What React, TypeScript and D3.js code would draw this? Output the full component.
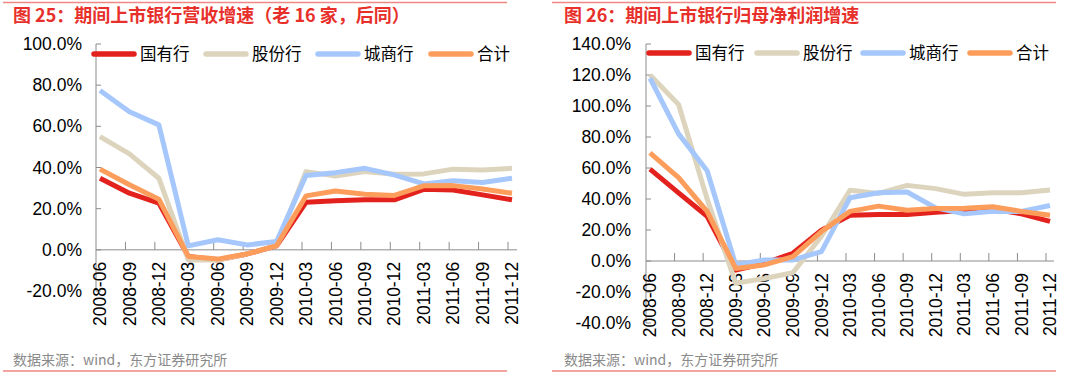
import React from "react";
import * as d3 from "d3";

const categories = [
  "2008-06", "2008-09", "2008-12", "2009-03", "2009-06", "2009-09", "2009-12",
  "2010-03", "2010-06", "2010-09", "2010-12", "2011-03", "2011-06", "2011-09", "2011-12",
];

const seriesNames = ["国有行", "股份行", "城商行", "合计"];
const seriesColors = ["#e3221d", "#ddd4be", "#a5c7fc", "#fd9d5c"];

// Chart 25: revenue growth (%)
const rev_state = [34.8, 27.5, 22.7, -3.2, -4.9, -2.0, 1.9, 23.1, 23.9, 24.3, 24.3, 29.4, 29.1, 26.7, 24.3];
const rev_joint = [55.0, 46.6, 34.8, -4.9, -5.0, -2.0, 2.0, 38.0, 35.9, 38.0, 36.7, 36.9, 39.2, 38.8, 39.6];
const rev_city = [77.4, 67.1, 60.7, 1.9, 4.9, 2.4, 4.0, 36.1, 37.5, 39.6, 36.4, 32.0, 33.6, 32.7, 34.8];
const rev_total = [39.2, 31.6, 24.6, -3.2, -4.5, -2.0, 2.0, 26.2, 28.6, 27.0, 26.4, 31.1, 31.2, 29.6, 27.5];

// Chart 26: net profit growth (%)
const np_state = [59.3, 44.0, 28.9, -5.9, -1.5, 5.0, 19.8, 29.5, 30.0, 30.0, 31.5, 32.6, 33.6, 30.4, 25.6];
const np_joint = [120.0, 101.0, 40.0, -14.3, -11.3, -7.6, 16.0, 45.6, 43.6, 48.8, 46.7, 43.0, 44.0, 44.0, 45.8];
const np_city = [117.9, 82.0, 58.2, -2.6, 0.7, 0.7, 6.0, 40.8, 44.0, 44.5, 34.3, 30.4, 32.1, 32.0, 35.8];
const np_total = [69.7, 53.8, 32.0, -4.8, -2.5, 2.8, 19.0, 32.0, 35.4, 32.8, 33.9, 34.0, 35.0, 32.0, 29.5];

const revTicks = [-20, 0, 20, 40, 60, 80, 100];
const npTicks = [-40, -20, 0, 20, 40, 60, 80, 100, 120, 140];

const title25 = "图 25：期间上市银行营收增速（老 16 家，后同）";
const title26 = "图 26：期间上市银行归母净利润增速";
const sourceText = "数据来源：wind，东方证券研究所";

const NUM_FONT = "'Liberation Sans', Arial, sans-serif";
const CJK_FONT = "'Noto Sans CJK SC', 'Liberation Sans', sans-serif";

type PanelProps = {
  title: string;
  data: number[][];
  ticks: number[];
  yDomain: [number, number];
  yRange: [number, number];
  axisX: number;
  xRange: [number, number];
  axisEnd: number;
  labelRight: number;
  legendLines: number[];
  legendY: number;
  borderX: [number, number];
  titleX: number;
};

function Panel(p: PanelProps) {
  const y = d3.scaleLinear().domain(p.yDomain).range(p.yRange);
  const x = d3.scalePoint<string>().domain(categories).range(p.xRange);
  const line = d3
    .line<number>()
    .x((_, i) => x(categories[i]) as number)
    .y((v) => y(v));
  const y0 = y(0);
  const step = x.step();
  return (
    <g>
      <line x1={p.borderX[0]} x2={p.borderX[1]} y1={2.5} y2={2.5} stroke="#f08784" strokeWidth={1.5} />
      <line x1={p.borderX[0]} x2={p.borderX[1]} y1={371} y2={371} stroke="#f08784" strokeWidth={1.5} />
      <text x={p.titleX} y={22} fill="#e8302b" fontFamily={CJK_FONT} fontSize={18} fontWeight="bold">
        {p.title}
      </text>
      <text x={p.titleX} y={365} fill="#8a8a8a" fontFamily={CJK_FONT} fontSize={14}>
        {sourceText}
      </text>
      {/* y axis */}
      <line x1={p.axisX} x2={p.axisX} y1={y(p.yDomain[0])} y2={y(p.yDomain[1])} stroke="#8c8c8c" strokeWidth={1} />
      {p.ticks.map((t) => (
        <g key={t}>
          <line x1={p.axisX} x2={p.axisX + 5} y1={y(t)} y2={y(t)} stroke="#8c8c8c" strokeWidth={1} />
          <text
            x={p.labelRight}
            y={y(t)}
            dy="0.35em"
            textAnchor="end"
            fontFamily={NUM_FONT}
            fontSize={17.5}
            fill="#000"
          >
            {t.toFixed(1) + "%"}
          </text>
        </g>
      ))}
      {/* x axis */}
      <line x1={p.axisX} x2={p.axisEnd} y1={y0} y2={y0} stroke="#8c8c8c" strokeWidth={1} />
      {categories.map((c, i) =>
        i === 0 ? null : (
          <line
            key={"t" + c}
            x1={p.axisX + i * step}
            x2={p.axisX + i * step}
            y1={y0}
            y2={y0 - 8}
            stroke="#8c8c8c"
            strokeWidth={1}
          />
        )
      )}
      {categories.map((c) => (
        <text
          key={"l" + c}
          transform={`translate(${x(c)},${y0 + 12}) rotate(-90)`}
          textAnchor="end"
          dy="0.35em"
          fontFamily={NUM_FONT}
          fontSize={17.5}
          fill="#000"
        >
          {c}
        </text>
      ))}
      {/* series */}
      {p.data.map((d, k) => (
        <path
          key={k}
          d={line(d) || ""}
          fill="none"
          stroke={seriesColors[k]}
          strokeWidth={5}
          strokeLinejoin="round"
        />
      ))}
      {/* legend */}
      {seriesNames.map((n, k) => (
        <g key={n}>
          <line
            x1={p.legendLines[k]}
            x2={p.legendLines[k] + 40}
            y1={p.legendY}
            y2={p.legendY}
            stroke={seriesColors[k]}
            strokeWidth={5.5}
            strokeLinecap="round"
          />
          <text
            x={p.legendLines[k] + 46}
            y={p.legendY}
            dy="0.36em"
            fontFamily={CJK_FONT}
            fontSize={16.5}
            fill="#000"
          >
            {n}
          </text>
        </g>
      ))}
    </g>
  );
}

export default function App() {
  return (
    <svg
      width={1080}
      height={377}
      style={{ position: "absolute", left: 0, top: 0, background: "#fff" }}
    >
      <rect width={1080} height={377} fill="#fff" />
      <Panel
        title={title25}
        data={[rev_state, rev_joint, rev_city, rev_total]}
        ticks={revTicks}
        yDomain={[-20, 100]}
        yRange={[291, 44]}
        axisX={96}
        xRange={[100, 512]}
        axisEnd={517}
        labelRight={82}
        legendLines={[94, 206, 318, 431]}
        legendY={54}
        borderX={[3, 507]}
        titleX={13}
      />
      <Panel
        title={title26}
        data={[np_state, np_joint, np_city, np_total]}
        ticks={npTicks}
        yDomain={[-40, 140]}
        yRange={[323, 44]}
        axisX={646}
        xRange={[650, 1050]}
        axisEnd={1054}
        labelRight={631}
        legendLines={[649, 757, 863, 970]}
        legendY={53}
        borderX={[552, 1056]}
        titleX={564}
      />
    </svg>
  );
}
